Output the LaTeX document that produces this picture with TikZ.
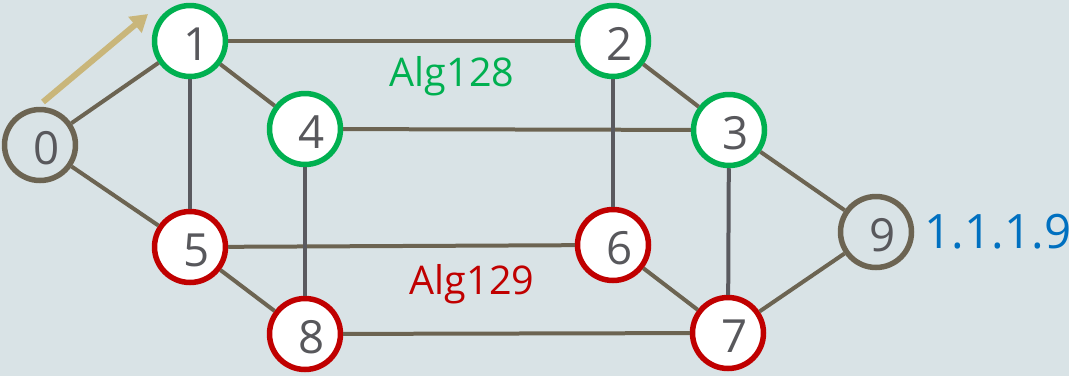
\documentclass[tikz,border=0pt]{standalone}
\usepackage{fontspec}
\setmainfont{Open Sans}
\usepackage{tikz}
\usetikzlibrary{arrows.meta}

\definecolor{bgcol}{RGB}{217,227,230}
\definecolor{numgray}{RGB}{88,88,92}
\definecolor{algGreen}{RGB}{0,176,80}
\definecolor{algRed}{RGB}{192,0,0}
\definecolor{addrBlue}{RGB}{0,112,192}
\definecolor{edgeBrown}{RGB}{108,100,82}
\definecolor{vertGray}{RGB}{90,90,95}
\definecolor{flowTan}{RGB}{201,182,122}

\newcommand{\rnum}[1]{\hspace{0.28cm}#1}

\tikzset{
  rtr/.style={draw,circle,line width=0.11cm,minimum size=1.42cm,inner sep=0pt,
    text height=0.78cm,text depth=0pt,text=numgray,font=\fontsize{26}{26}\selectfont},
  grp128/.style={rtr,draw=algGreen,fill=white},
  grp129/.style={rtr,draw=algRed,fill=white},
  outer/.style={rtr,draw=edgeBrown},
  link/.style={draw=edgeBrown,line width=0.08cm},
  vlink/.style={draw=vertGray,line width=0.08cm},
}

\begin{document}
\begin{tikzpicture}[x=0.02cm,y=-0.02cm]

    \fill[bgcol] (0,0) rectangle (1069,376);
    \useasboundingbox (0,0) rectangle (1069,376);

    % routers
    \node (r0) at (40,145)  [outer]  {\rnum{0}};
    \node (r1) at (190,41)  [grp128] {\rnum{1}};
    \node (r2) at (613,41)  [grp128] {\rnum{2}};
    \node (r3) at (729,130) [grp128] {\rnum{3}};
    \node (r4) at (305,129) [grp128] {\rnum{4}};
    \node (r5) at (190,247) [grp129] {\rnum{5}};
    \node (r6) at (613,245) [grp129] {\rnum{6}};
    \node (r7) at (728,333) [grp129] {\rnum{7}};
    \node (r8) at (305,334) [grp129] {\rnum{8}};
    \node (r9) at (876,232) [outer]  {\rnum{9}};

    % links
    \draw[link] (r0) -- (r1);
    \draw[link] (r0) -- (r5);
    \draw[link] (r1) -- (r2);
    \draw[link] (r1) -- (r4);
    \draw[link] (r2) -- (r3);
    \draw[link] (r4) -- (r3);
    \draw[link] (r5) -- (r6);
    \draw[link] (r5) -- (r8);
    \draw[link] (r6) -- (r7);
    \draw[link] (r8) -- (r7);
    \draw[link] (r3) -- (r9);
    \draw[link] (r7) -- (r9);

    \draw[vlink] (r1) -- (r5);
    \draw[vlink] (r4) -- (r8);
    \draw[vlink] (r2) -- (r6);
    \draw[vlink] (r3) -- (r7);

    % flow arrow
    \coordinate (fs) at (43,102);
    \coordinate (fe) at (148,14);
    \draw[flowTan,line width=0.12cm,-{Triangle[length=0.34cm,width=0.4cm]}] (fs) -- (fe);

    % labels
    \node (alg128) at (452,76)  [text=algGreen,font=\fontsize{22.5}{22.5}\selectfont] {Alg128};
    \node (alg129) at (472,284) [text=algRed,font=\fontsize{22.5}{22.5}\selectfont] {Alg129};
    \node (addr9)  at (998,232) [text=addrBlue,font=\fontsize{27}{27}\selectfont] {1.1.1.9};

\end{tikzpicture}
\end{document}
